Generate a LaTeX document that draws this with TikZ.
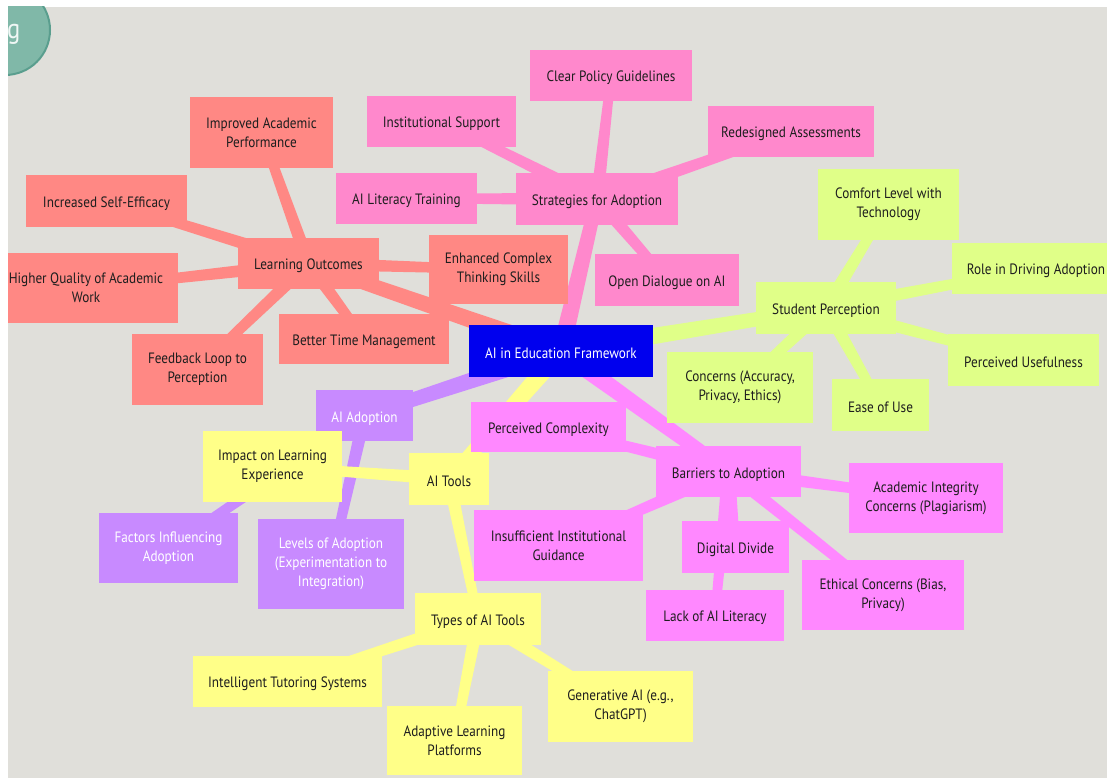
\documentclass[tikz,border=0pt]{standalone}
\usepackage{fontspec}
\setmainfont{PT Sans}[FakeStretch=0.88]
\usetikzlibrary{calc}
\pgfdeclarelayer{bglayer}
\pgfdeclarelayer{edgelayer}
\pgfsetlayers{bglayer,edgelayer,main}
\definecolor{bgc}{HTML}{E0DFDA}
\definecolor{txt}{HTML}{1E1E1E}
\definecolor{rootc}{HTML}{0000EE}
\definecolor{pinkc}{HTML}{FF88CC}
\definecolor{salc}{HTML}{FF8884}
\definecolor{limec}{HTML}{E0FF88}
\definecolor{magc}{HTML}{FF88FF}
\definecolor{purc}{HTML}{C88AFF}
\definecolor{yelc}{HTML}{FFFF88}
\definecolor{tealc}{HTML}{80B8A8}
\definecolor{tealb}{HTML}{5A9E8E}
% tapered connector: from, to, colour, half width at start, half width at end
\newcommand\taper[5]{%
  \fill[#3] ($(#1.center)!#4!90:(#2.center)$) -- ($(#1.center)!#4!-90:(#2.center)$)
    -- ($(#2.center)!#5!90:(#1.center)$) -- ($(#2.center)!#5!-90:(#1.center)$) -- cycle;}
\newcommand\rootedge[3]{\taper{#1}{#2}{#3}{9pt}{6.5pt}}
\newcommand\kidedge[3]{\taper{#1}{#2}{#3}{6.5pt}{4.5pt}}
\begin{document}
\begin{tikzpicture}[x=1pt,y=-1pt,
  box/.style={rectangle, inner sep=0pt, align=center, text=txt,
    font=\fontsize{15}{19}\selectfont,
    execute at begin node={\rule{0pt}{16pt}}},
  whitebox/.style={box, text=white}]
\useasboundingbox (0,0) rectangle (1107,778);
\begin{pgfonlayer}{bglayer}
  \fill[white] (0,0) rectangle (1107,778);
  \fill[bgc] (8,7) rectangle (1107,778);
\end{pgfonlayer}
\clip (8,7) rectangle (1107,778);
% corner remnant
\draw[fill=tealc, draw=tealb, line width=2pt] (5,30) circle (45pt);
\node[anchor=base west, inner sep=0pt, text=white!88!tealc, font=\fontsize{28}{28}\selectfont] (gtail) at (7,39) {g};
% root
\node[whitebox, fill=rootc, minimum width=184pt, minimum height=52pt] (root) at (561,351) {AI in Education Framework};
% strategies (pink)
\node[box, fill=pinkc, minimum width=162pt, minimum height=52pt] (strat) at (597,199) {Strategies for Adoption};
\node[box, fill=pinkc, minimum width=162pt, minimum height=51pt] (clear) at (611,75.5) {Clear Policy Guidelines};
\node[box, fill=pinkc, minimum width=149pt, minimum height=51pt] (inst) at (441.5,121.5) {Institutional Support};
\node[box, fill=pinkc, minimum width=166pt, minimum height=51pt] (redes) at (791,131.5) {Redesigned Assessments};
\node[box, fill=pinkc, minimum width=141pt, minimum height=51pt] (litt) at (406.5,198.5) {AI Literacy Training};
\node[box, fill=pinkc, minimum width=144pt, minimum height=52pt] (dial) at (667,280) {Open Dialogue on AI};
% learning outcomes (salmon)
\node[box, fill=salc, minimum width=141pt, minimum height=51pt] (lo) at (308.5,263.5) {Learning Outcomes};
\node[box, fill=salc, minimum width=143pt, minimum height=71pt] (impr) at (261.5,132.5) {Improved Academic\\Performance};
\node[box, fill=salc, minimum width=161pt, minimum height=52pt] (selfeff) at (106.5,201) {Increased Self-Efficacy};
\node[box, fill=salc, minimum width=184pt, minimum height=70pt] (higher) at (86,288) {Higher Quality of Academic\\Work};
\node[box, fill=salc, minimum width=131pt, minimum height=71pt] (feedback) at (197.5,369.5) {Feedback Loop to\\Perception};
\node[box, fill=salc, minimum width=170pt, minimum height=50pt] (time) at (364,339) {Better Time Management};
\node[box, fill=salc, minimum width=139pt, minimum height=69pt] (complex) at (498.5,269.5) {Enhanced Complex\\Thinking Skills};
% student perception (lime)
\node[box, fill=limec, minimum width=140pt, minimum height=52pt] (sp) at (826,308) {Student Perception};
\node[box, fill=limec, minimum width=141pt, minimum height=71pt] (comfort) at (888.5,204.5) {Comfort Level with\\Technology};
\node[box, fill=limec, minimum width=168pt, minimum height=51pt] (role) at (1036,268.5) {Role in Driving Adoption};
\node[box, fill=limec, minimum width=151pt, minimum height=52pt] (useful) at (1023.5,360) {Perceived Usefulness};
\node[box, fill=limec, minimum width=97pt, minimum height=52pt] (ease) at (880.5,405) {Ease of Use};
\node[box, fill=limec, minimum width=146pt, minimum height=71pt] (concerns) at (740,387.5) {Concerns (Accuracy,\\Privacy, Ethics)};
% barriers (magenta)
\node[box, fill=magc, minimum width=145pt, minimum height=51pt] (barr) at (728.5,471.5) {Barriers to Adoption};
\node[box, fill=magc, minimum width=155pt, minimum height=50pt] (pcomp) at (548.5,427) {Perceived Complexity};
\node[box, fill=magc, minimum width=154pt, minimum height=70pt] (acad) at (926,498) {Academic Integrity\\Concerns (Plagiarism)};
\node[box, fill=magc, minimum width=169pt, minimum height=71pt] (insuff) at (558.5,545.5) {Insufficient Institutional\\Guidance};
\node[box, fill=magc, minimum width=107pt, minimum height=52pt] (digdiv) at (735.5,547) {Digital Divide};
\node[box, fill=magc, minimum width=162pt, minimum height=70pt] (ethic) at (883,595) {Ethical Concerns (Bias,\\Privacy)};
\node[box, fill=magc, minimum width=138pt, minimum height=51pt] (lack) at (715,615.5) {Lack of AI Literacy};
% adoption (purple)
\node[whitebox, fill=purc, minimum width=97pt, minimum height=51pt] (adopt) at (364.5,415.5) {AI Adoption};
\node[whitebox, fill=purc, minimum width=139pt, minimum height=70pt] (factors) at (168.5,548) {Factors Influencing\\Adoption};
\node[whitebox, fill=purc, minimum width=146pt, minimum height=90pt] (levels) at (331,564) {Levels of Adoption\\(Experimentation to\\Integration)};
% tools (yellow)
\node[box, fill=yelc, minimum width=80pt, minimum height=52pt] (tools) at (449,479) {AI Tools};
\node[box, fill=yelc, minimum width=139pt, minimum height=71pt] (impact) at (272.5,466.5) {Impact on Learning\\Experience};
\node[box, fill=yelc, minimum width=126pt, minimum height=52pt] (types) at (478,619) {Types of AI Tools};
\node[box, fill=yelc, minimum width=189pt, minimum height=51pt] (its) at (287.5,681.5) {Intelligent Tutoring Systems};
\node[box, fill=yelc, minimum width=135pt, minimum height=69pt] (alp) at (454.5,740.5) {Adaptive Learning\\Platforms};
\node[box, fill=yelc, minimum width=145pt, minimum height=71pt] (gen) at (620.5,706.5) {Generative AI (e.g.,\\ChatGPT)};
% connectors
\begin{pgfonlayer}{edgelayer}
  \rootedge{root}{strat}{pinkc}
  \rootedge{root}{lo}{salc}
  \rootedge{root}{sp}{limec}
  \rootedge{root}{barr}{magc}
  \rootedge{root}{adopt}{purc}
  \rootedge{root}{tools}{yelc}
  \kidedge{strat}{clear}{pinkc}
  \kidedge{strat}{inst}{pinkc}
  \kidedge{strat}{redes}{pinkc}
  \kidedge{strat}{litt}{pinkc}
  \kidedge{strat}{dial}{pinkc}
  \kidedge{lo}{impr}{salc}
  \kidedge{lo}{selfeff}{salc}
  \kidedge{lo}{higher}{salc}
  \kidedge{lo}{feedback}{salc}
  \kidedge{lo}{time}{salc}
  \kidedge{lo}{complex}{salc}
  \kidedge{sp}{comfort}{limec}
  \kidedge{sp}{role}{limec}
  \kidedge{sp}{useful}{limec}
  \kidedge{sp}{ease}{limec}
  \kidedge{sp}{concerns}{limec}
  \kidedge{barr}{pcomp}{magc}
  \kidedge{barr}{acad}{magc}
  \kidedge{barr}{insuff}{magc}
  \kidedge{barr}{digdiv}{magc}
  \kidedge{barr}{ethic}{magc}
  \kidedge{barr}{lack}{magc}
  \kidedge{adopt}{factors}{purc}
  \kidedge{adopt}{levels}{purc}
  \kidedge{tools}{impact}{yelc}
  \kidedge{tools}{types}{yelc}
  \kidedge{types}{its}{yelc}
  \kidedge{types}{alp}{yelc}
  \kidedge{types}{gen}{yelc}
\end{pgfonlayer}
\end{tikzpicture}
\end{document}
